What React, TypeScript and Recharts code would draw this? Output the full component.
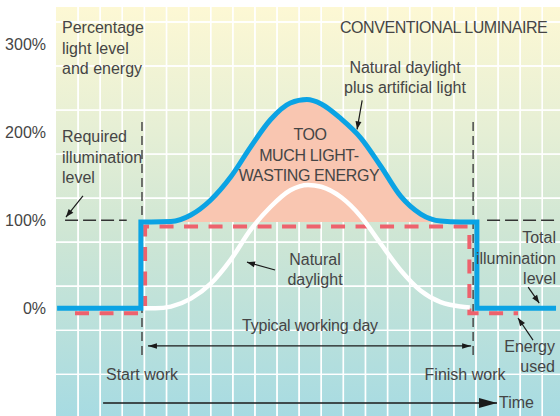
import React from "react";
import {
  ComposedChart,
  Line,
  Area,
  XAxis,
  YAxis,
  CartesianGrid,
  ReferenceLine,
} from "recharts";

// x = time in grid steps (one white vertical line per step), y = % of required illumination
const blueBefore = [
  { x: 0.05, y: 0 },
  { x: 3.84, y: 0 },
];
const blueDay = [
  { x: 3.84, y: 98 },
  { x: 4.3, y: 98 },
  { x: 5.2, y: 98.5 },
  { x: 6.1, y: 106 },
  { x: 7.0, y: 123 },
  { x: 7.9, y: 149 },
  { x: 8.8, y: 183 },
  { x: 9.7, y: 214 },
  { x: 10.6, y: 233 },
  { x: 11.35, y: 237 },
  { x: 12.0, y: 232 },
  { x: 12.9, y: 215 },
  { x: 13.8, y: 193 },
  { x: 14.7, y: 161 },
  { x: 15.6, y: 127 },
  { x: 16.5, y: 107 },
  { x: 17.4, y: 99 },
  { x: 18.3, y: 98 },
  { x: 19.04, y: 98 },
];
const blueAfter = [
  { x: 19.04, y: 0 },
  { x: 22.62, y: 0 },
];

const daylight = [
  { x: 3.94, y: 0 },
  { x: 4.5, y: 0 },
  { x: 5.2, y: 2 },
  { x: 6.1, y: 11 },
  { x: 7.0, y: 28 },
  { x: 7.9, y: 55 },
  { x: 8.8, y: 89 },
  { x: 9.7, y: 115 },
  { x: 10.6, y: 134 },
  { x: 11.4, y: 140 },
  { x: 12.0, y: 138 },
  { x: 12.9, y: 126 },
  { x: 13.8, y: 104 },
  { x: 14.7, y: 73 },
  { x: 15.6, y: 43 },
  { x: 16.5, y: 20 },
  { x: 17.4, y: 7 },
  { x: 18.3, y: 2 },
  { x: 18.72, y: 1 },
];

const energy = [
  { x: 0.86, y: -5.7 },
  { x: 4.03, y: -5.7 },
  { x: 4.03, y: 93 },
  { x: 18.7, y: 93 },
  { x: 18.7, y: -5.7 },
  { x: 20.9, y: -5.7 },
];

const yTicks = [0, 100, 200, 300];
const gridY = [-100, -75, -50, -25, 0, 25, 50, 75, 100, 125, 150, 175, 200, 225, 250, 275, 300, 325];
const gridX = [1, 2, 3, 4, 5, 6, 7, 8, 9, 10, 11, 12, 13, 14, 15, 16, 17, 18, 19, 20, 21, 22];

const START = 3.89;
const FINISH = 18.87;
const REQUIRED = 100;

const BLUE = "#0ba3e4";
const RED = "#ee626d";
const PINK = "#f9c6b1";
const INK = "#454545";
const FONT = "'Liberation Sans', Arial, sans-serif";

function headPoints(x1: number, y1: number, x2: number, y2: number, len: number, half: number) {
  const a = Math.atan2(y2 - y1, x2 - x1);
  const bx = x2 - len * Math.cos(a);
  const by = y2 - len * Math.sin(a);
  const px = -Math.sin(a) * half;
  const py = Math.cos(a) * half;
  return `${x2},${y2} ${bx + px},${by + py} ${bx - px},${by - py}`;
}

function arrow(len: number, half: number, both = false, width = 1.2) {
  return (p: any) => {
    const { x1, y1, x2, y2 } = p;
    return (
      <g>
        <line x1={x1} y1={y1} x2={x2} y2={y2} stroke="#1a1a1a" strokeWidth={width} />
        <polygon points={headPoints(x1, y1, x2, y2, len, half)} fill="#1a1a1a" />
        {both && <polygon points={headPoints(x2, y2, x1, y1, len, half)} fill="#1a1a1a" />}
      </g>
    );
  };
}

function T({ x, y, anchor = "start", ls = 0, children }: any) {
  return (
    <text x={x} y={y} textAnchor={anchor} fontFamily={FONT} fontSize={16} fill={INK} letterSpacing={ls}>
      {children}
    </text>
  );
}

export default function App() {
  return (
    <div style={{ position: "absolute", left: 0, top: 0, width: 560, height: 416 }}>
      <ComposedChart width={560} height={416} margin={{ top: 7, right: 0, bottom: 0, left: 0 }}>
        <defs>
          <linearGradient id="bg" x1="0" y1="0" x2="0" y2="1">
            <stop offset="0%" stopColor="#fdf8d4" />
            <stop offset="30%" stopColor="#e6efd5" />
            <stop offset="55%" stopColor="#cfe6d4" />
            <stop offset="100%" stopColor="#a7dbe2" />
          </linearGradient>
        </defs>
        <XAxis type="number" dataKey="x" domain={[0, 22.8]} allowDataOverflow hide />
        <YAxis
          type="number"
          dataKey="y"
          domain={[-122.2, 342]}
          allowDataOverflow
          ticks={yTicks}
          width={56}
          axisLine={false}
          tickLine={false}
          tickMargin={4}
          tickFormatter={(v: number) => `${v}%`}
          tick={{ fontSize: 16, fill: INK, fontFamily: FONT }}
        />
        <CartesianGrid
          fill="url(#bg)"
          fillOpacity={1}
          stroke="#ffffff"
          strokeWidth={1.4}
          horizontalValues={gridY}
          verticalValues={gridX}
        />
        <Area
          data={blueDay}
          dataKey="y"
          type="monotone"
          baseValue={98}
          fill={PINK}
          fillOpacity={1}
          stroke="none"
          isAnimationActive={false}
        />
        <CartesianGrid
          fill="none"
          stroke="#ffffff"
          strokeWidth={1.4}
          horizontalValues={gridY}
          verticalValues={gridX}
        />

        <ReferenceLine segment={[{ x: START, y: -53 }, { x: START, y: 211.5 }]} stroke="#4a4a4a" strokeWidth={1.5} strokeDasharray="9 5" ifOverflow="visible" />
        <ReferenceLine segment={[{ x: FINISH, y: -53 }, { x: FINISH, y: 211.5 }]} stroke="#4a4a4a" strokeWidth={1.5} strokeDasharray="9 5" ifOverflow="visible" />
        <ReferenceLine segment={[{ x: 0.41, y: REQUIRED }, { x: 3.2, y: REQUIRED }]} stroke="#333" strokeWidth={1.4} strokeDasharray="13 5" ifOverflow="visible" />
        <ReferenceLine segment={[{ x: 19.5, y: REQUIRED }, { x: 22.58, y: REQUIRED }]} stroke="#333" strokeWidth={1.4} strokeDasharray="13 5" ifOverflow="visible" />

        <Line data={energy} dataKey="y" type="linear" stroke={RED} strokeWidth={4} strokeDasharray="14 10.5" dot={false} isAnimationActive={false} />
        <Line data={daylight} dataKey="y" type="monotone" stroke="#ffffff" strokeWidth={4.5} dot={false} isAnimationActive={false} />
        <Line
          data={[...blueBefore, ...blueDay, ...blueAfter]}
          dataKey="y"
          type="monotone"
          stroke={BLUE}
          strokeWidth={5}
          strokeLinejoin="miter"
          dot={false}
          isAnimationActive={false}
        />

        <ReferenceLine segment={[{ x: 1.22, y: 127.5 }, { x: 0.45, y: 103.6 }]} shape={arrow(8, 3)} ifOverflow="visible" />
        <ReferenceLine segment={[{ x: 13.85, y: 236 }, { x: 13.62, y: 203 }]} shape={arrow(8, 3)} ifOverflow="visible" />
        <ReferenceLine segment={[{ x: 9.91, y: 43.5 }, { x: 8.64, y: 52.4 }]} shape={arrow(8, 3)} ifOverflow="visible" />
        <ReferenceLine segment={[{ x: 21.36, y: 24 }, { x: 21.86, y: 6 }]} shape={arrow(8, 3)} ifOverflow="visible" />
        <ReferenceLine segment={[{ x: 21.58, y: -36 }, { x: 20.9, y: -11 }]} shape={arrow(8, 3)} ifOverflow="visible" />
        <ReferenceLine segment={[{ x: 4.16, y: -42.7 }, { x: 18.78, y: -42.7 }]} shape={arrow(9, 2.8, true)} ifOverflow="visible" />
        <ReferenceLine segment={[{ x: 2.13, y: -107.5 }, { x: 19.95, y: -107.5 }]} shape={arrow(18, 5, false, 1.4)} ifOverflow="visible" />
      </ComposedChart>

      <svg width={560} height={416} style={{ position: "absolute", left: 0, top: 0, pointerEvents: "none" }}>
        <T x={62} y={33}>Percentage</T>
        <T x={62} y={54}>light level</T>
        <T x={62} y={74}>and energy</T>

        <T x={62} y={142}>Required</T>
        <T x={62} y={163}>illumination</T>
        <T x={62} y={183}>level</T>

        <T x={340} y={33} ls={-0.45}>CONVENTIONAL LUMINAIRE</T>

        <T x={405} y={73} anchor="middle">Natural daylight</T>
        <T x={405} y={93} anchor="middle">plus artificial light</T>

        <T x={310} y={140} anchor="middle" ls={-0.4}>TOO</T>
        <T x={309} y={161} anchor="middle" ls={-0.4}>MUCH LIGHT-</T>
        <T x={309} y={181} anchor="middle" ls={-0.4}>WASTING ENERGY</T>

        <T x={315} y={265} anchor="middle">Natural</T>
        <T x={315} y={285} anchor="middle">daylight</T>

        <T x={310} y={331} anchor="middle" ls={-0.2}>Typical working day</T>

        <T x={142} y={380} anchor="middle">Start work</T>
        <T x={465} y={380} anchor="middle">Finish work</T>
        <T x={499} y={408}>Time</T>

        <T x={556} y={243} anchor="end">Total</T>
        <T x={556} y={264} anchor="end">illumination</T>
        <T x={556} y={284} anchor="end">level</T>

        <T x={555} y={352} anchor="end">Energy</T>
        <T x={555} y={372} anchor="end">used</T>
      </svg>
    </div>
  );
}
